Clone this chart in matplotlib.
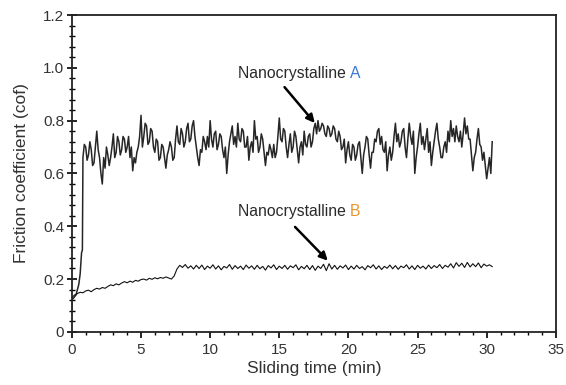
import numpy as np
import matplotlib
matplotlib.use("Agg")
import matplotlib.pyplot as plt
from matplotlib.ticker import MultipleLocator, FuncFormatter

plt.rcParams['font.family'] = ['Liberation Sans', 'DejaVu Sans']

# Nanocrystalline A: run-in part, then readings every 0.1 min from 0.8 min
a_start_t = [0.0, 0.3, 0.5, 0.6, 0.7, 0.76]
a_start = [0.12, 0.14, 0.18, 0.22, 0.30, 0.31]
a_vals = [
    0.66, 0.71, 0.70, 0.65, 0.67, 0.72, 0.69, 0.63, 0.64, 0.70,
    0.76, 0.69, 0.66, 0.60, 0.56, 0.66, 0.62, 0.70, 0.67, 0.63,
    0.66, 0.70, 0.75, 0.66, 0.68, 0.74, 0.72, 0.67, 0.69, 0.74,
    0.73, 0.68, 0.70, 0.74, 0.66, 0.70, 0.61, 0.66, 0.64, 0.68,
    0.70, 0.74, 0.82, 0.70, 0.74, 0.79, 0.78, 0.71, 0.72, 0.77,
    0.76, 0.70, 0.68, 0.73, 0.72, 0.65, 0.66, 0.71, 0.70, 0.66,
    0.62, 0.67, 0.69, 0.72, 0.70, 0.65, 0.66, 0.73, 0.78, 0.72,
    0.71, 0.77, 0.75, 0.70, 0.72, 0.77, 0.79, 0.72, 0.73, 0.78,
    0.80, 0.74, 0.70, 0.66, 0.63, 0.69, 0.68, 0.74, 0.72, 0.69,
    0.74, 0.70, 0.80, 0.73, 0.70, 0.75, 0.76, 0.69, 0.71, 0.75,
    0.74, 0.69, 0.66, 0.70, 0.60, 0.67, 0.72, 0.75, 0.78, 0.71,
    0.74, 0.70, 0.79, 0.73, 0.72, 0.77, 0.76, 0.70, 0.70, 0.74,
    0.65, 0.70, 0.72, 0.68, 0.80, 0.73, 0.74, 0.68, 0.70, 0.75,
    0.73, 0.68, 0.63, 0.68, 0.67, 0.71, 0.69, 0.66, 0.71, 0.66,
    0.68, 0.74, 0.81, 0.73, 0.72, 0.77, 0.76, 0.70, 0.66, 0.71,
    0.75, 0.68, 0.70, 0.76, 0.74, 0.69, 0.64, 0.70, 0.72, 0.67,
    0.76, 0.71, 0.70, 0.74, 0.75, 0.70, 0.72, 0.77, 0.79, 0.75,
    0.80, 0.76, 0.77, 0.79, 0.78, 0.75, 0.74, 0.78, 0.77, 0.74,
    0.75, 0.78, 0.77, 0.73, 0.72, 0.76, 0.74, 0.69, 0.70, 0.73,
    0.64, 0.69, 0.72, 0.67, 0.65, 0.71, 0.70, 0.65, 0.67, 0.71,
    0.72, 0.66, 0.60, 0.67, 0.70, 0.74, 0.73, 0.67, 0.62, 0.68,
    0.68, 0.73, 0.72, 0.76, 0.77, 0.71, 0.74, 0.69, 0.68, 0.72,
    0.61, 0.67, 0.70, 0.65, 0.68, 0.74, 0.79, 0.72, 0.75, 0.70,
    0.72, 0.76, 0.77, 0.70, 0.66, 0.73, 0.79, 0.74, 0.71, 0.76,
    0.60, 0.66, 0.70, 0.75, 0.79, 0.71, 0.74, 0.69, 0.73, 0.77,
    0.68, 0.72, 0.63, 0.68, 0.72, 0.76, 0.79, 0.73, 0.70, 0.66,
    0.66, 0.70, 0.72, 0.68, 0.76, 0.72, 0.80, 0.74, 0.77, 0.72,
    0.78, 0.74, 0.72, 0.76, 0.70, 0.75, 0.81, 0.75, 0.78, 0.73,
    0.73, 0.67, 0.61, 0.66, 0.68, 0.73, 0.77, 0.71, 0.70, 0.65,
    0.68, 0.63, 0.58, 0.62, 0.66, 0.60, 0.72,
]

# Nanocrystalline B: first point, then readings every 0.2 min from 0.2 min
b_start_t = [0.0, 0.0]
b_start = [0.085, 0.13]
b_vals = [
    0.140, 0.145, 0.150, 0.148, 0.155,
    0.158, 0.152, 0.160, 0.165, 0.162,
    0.168, 0.165, 0.172, 0.178, 0.175,
    0.182, 0.178, 0.185, 0.190, 0.186,
    0.192, 0.188, 0.195, 0.192, 0.198,
    0.200, 0.196, 0.203, 0.199, 0.205,
    0.201, 0.206, 0.203, 0.208, 0.204,
    0.200, 0.212, 0.238, 0.252, 0.244,
    0.255, 0.241, 0.250, 0.238, 0.252,
    0.240, 0.253, 0.236, 0.249, 0.241,
    0.254, 0.238, 0.250, 0.235, 0.248,
    0.242, 0.255, 0.237, 0.251, 0.240,
    0.249, 0.236, 0.253, 0.241, 0.250,
    0.237, 0.252, 0.239, 0.248, 0.234,
    0.251, 0.242, 0.254, 0.236, 0.249,
    0.240, 0.252, 0.237, 0.250, 0.243,
    0.254, 0.235, 0.248, 0.239, 0.252,
    0.236, 0.251, 0.233, 0.249, 0.240,
    0.256, 0.232, 0.258, 0.238, 0.252,
    0.237, 0.250, 0.242, 0.253, 0.236,
    0.249, 0.238, 0.252, 0.240, 0.247,
    0.235, 0.251, 0.243, 0.254, 0.238,
    0.250, 0.236, 0.248, 0.241, 0.253,
    0.239, 0.251, 0.237, 0.249, 0.243,
    0.254, 0.238, 0.250, 0.236, 0.252,
    0.241, 0.249, 0.238, 0.253, 0.240,
    0.251, 0.243, 0.255, 0.240, 0.252,
    0.245, 0.258, 0.242, 0.262, 0.248,
    0.260, 0.244, 0.263, 0.246, 0.258,
    0.247, 0.261, 0.243, 0.257, 0.249,
    0.254, 0.247,
]

t_a = np.concatenate([a_start_t, 0.8 + 0.1 * np.arange(len(a_vals))])
y_a = np.concatenate([a_start, a_vals])
t_b = np.concatenate([b_start_t, 0.2 + 0.2 * np.arange(len(b_vals))])
y_b = np.concatenate([b_start, b_vals])

fig = plt.figure(figsize=(5.66, 3.85), dpi=100)
ax = fig.add_axes([0.127, 0.138, 0.855, 0.823])

ax.plot(t_a, y_a, color='#262626', lw=1.1)
ax.plot(t_b, y_b, color='#111111', lw=0.8)

ax.set_xlim(0, 35)
ax.set_ylim(0, 1.2)
ax.xaxis.set_major_locator(MultipleLocator(5))
ax.xaxis.set_minor_locator(MultipleLocator(1))
ax.yaxis.set_major_locator(MultipleLocator(0.2))
ax.yaxis.set_minor_locator(MultipleLocator(0.04))
ax.yaxis.set_major_formatter(FuncFormatter(lambda v, p: '0' if abs(v) < 1e-9 else '%.1f' % v))

for s in ax.spines.values():
    s.set_linewidth(1.3)
    s.set_color('#222222')
ax.tick_params(axis='y', which='major', direction='inout', length=7, width=1.2, labelsize=11, labelcolor='#333333', pad=2)
ax.tick_params(axis='y', which='minor', direction='inout', length=4, width=1.0)
ax.tick_params(axis='x', which='major', direction='out', length=4, width=1.2, labelsize=11, labelcolor='#333333', pad=4)
ax.tick_params(axis='x', which='minor', direction='out', length=2.5, width=1.0)

ax.set_xlabel('Sliding time (min)', fontsize=12.5, color='#333333', labelpad=3)
ax.set_ylabel('Friction coefficient (cof)', fontsize=12.5, color='#333333', labelpad=10)

# labels with coloured letters
fig.canvas.draw()
r = fig.canvas.get_renderer()
for x0, y0, letter, lc in [(12.0, 0.98, 'A', '#3b78d8'), (12.0, 0.455, 'B', '#e8962e')]:
    tx = ax.text(x0, y0, 'Nanocrystalline ', fontsize=11.3, color='#2a2a2a', va='center', ha='left')
    bb = tx.get_window_extent(renderer=r)
    xe = ax.transData.inverted().transform((bb.x1, bb.y0))[0]
    ax.text(xe, y0, letter, fontsize=11.3, color=lc, va='center', ha='left')

ax.annotate('', xy=(17.7, 0.783), xytext=(15.25, 0.935),
            arrowprops=dict(arrowstyle='-|>', color='black', lw=1.8, mutation_scale=12))
ax.annotate('', xy=(18.65, 0.262), xytext=(16.0, 0.405),
            arrowprops=dict(arrowstyle='-|>', color='black', lw=1.8, mutation_scale=12))

fig.savefig('out.png', dpi=100)
